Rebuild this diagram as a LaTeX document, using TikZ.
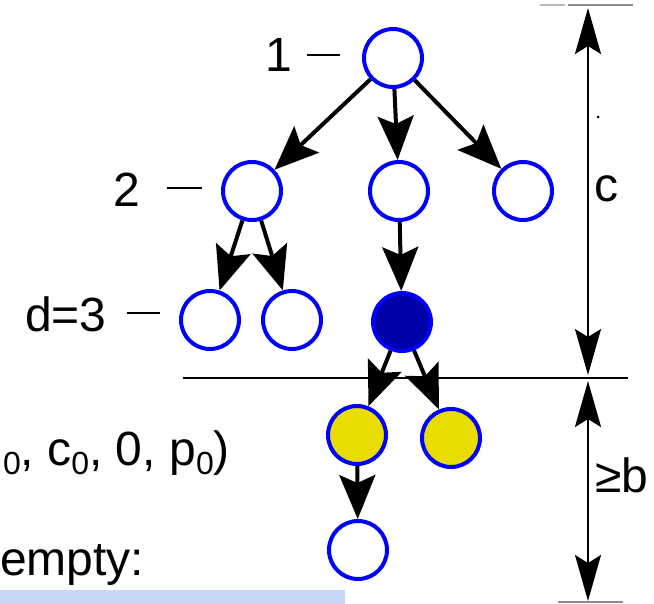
\documentclass[tikz,border=0pt]{standalone}
\usepackage{fontspec}
\setmainfont{Liberation Sans}
\usetikzlibrary{arrows.meta}
\definecolor{nodeblue}{RGB}{0,0,255}
\definecolor{darkfill}{RGB}{0,0,170}
\definecolor{yelfill}{RGB}{232,220,0}
\definecolor{bandblue}{RGB}{200,214,248}
\definecolor{rulegray}{RGB}{140,140,140}
\newcommand{\sub}[1]{\raisebox{-0.2em}{\fontsize{32}{32}\selectfont #1}}
\tikzset{
  tnode/.style={circle,draw=nodeblue,line width=4pt,minimum size=58pt,inner sep=0pt,outer sep=2pt,fill=white},
  darknode/.style={tnode,fill=darkfill},
  yelnode/.style={tnode,fill=yelfill},
  edge/.style={line width=4pt,-{Stealth[length=44pt,width=36pt,inset=8pt]}},
  dim/.style={line width=2pt,{Stealth[length=46pt,width=26pt,inset=8pt]}-{Stealth[length=46pt,width=26pt,inset=8pt]}},
  lbl/.style={inner sep=0pt,font=\fontsize{48}{58}\selectfont},
  tick/.style={line width=1.5pt},
  grayrule/.style={line width=1.5pt,draw=rulegray}
}
\begin{document}
\begin{tikzpicture}[x=1pt,y=-1pt]
\useasboundingbox (0,0) rectangle (654,604);
% band at bottom
\fill[bandblue] (0,590) rectangle (345,604);
% nodes
\node[tnode] (r) at (393,58) {};
\node[tnode] (a) at (252,191) {};
\node[tnode] (b) at (399,191) {};
\node[tnode] (c) at (523,191) {};
\node[tnode] (aa) at (210,320) {};
\node[tnode] (ab) at (292,320) {};
\node[darknode] (ba) at (402,322) {};
\node[yelnode] (y1) at (357,435) {};
\node[yelnode] (y2) at (451,438) {};
\node[tnode] (z) at (358,550) {};
% edges
\draw[edge] (r) -- (a);
\draw[edge] (r) -- (b);
\draw[edge] (r) -- (c);
\draw[edge] (a) -- (aa);
\draw[edge] (a) -- (ab);
\draw[edge] (b) -- (ba);
\draw[edge] (ba) -- (y1);
\draw[edge] (ba) -- (y2);
\draw[edge] (y1) -- (z);
% level labels
\node[lbl,anchor=base west] (l1) at (265,72) {1};
\coordinate (t1a) at (307,55); \coordinate (t1b) at (340,55);
\draw[tick] (t1a) -- (t1b);
\node[lbl,anchor=base west] (l2) at (113,207) {2};
\coordinate (t2a) at (167,188); \coordinate (t2b) at (202,188);
\draw[tick] (t2a) -- (t2b);
\node[lbl,anchor=base west] (l3) at (25,332) {d=3};
\coordinate (t3a) at (127,313); \coordinate (t3b) at (160,313);
\draw[tick] (t3a) -- (t3b);
% horizontal divider
\coordinate (h1) at (183,378); \coordinate (h2) at (628,378);
\draw[line width=1.2pt] (h1) -- (h2);
% gray rules top and bottom
\coordinate (g1) at (540,5); \coordinate (g2) at (565,5);
\coordinate (g3) at (568,5); \coordinate (g4) at (633,5);
\draw[grayrule,draw=rulegray!60] (g1) -- (g2);
\draw[grayrule] (g3) -- (g4);
\coordinate (g5) at (558,602); \coordinate (g6) at (623,602);
\draw[grayrule] (g5) -- (g6);
% dimension arrows
\coordinate (d1) at (588,8); \coordinate (d2) at (588,375);
\coordinate (d3) at (588,381); \coordinate (d4) at (588,601);
\draw[dim] (d1) -- (d2);
\draw[dim] (d3) -- (d4);
\fill (598,117) circle (1.5pt);
\node[lbl,anchor=base west] (lc) at (594,202) {c};
\node[lbl,anchor=base west] (lb) at (595,492) {≥b};
% bottom-left text
\node[lbl,anchor=base east] (tup) at (230,465) {\sub{0}, c\sub{0}, 0, p\sub{0})};
\node[lbl,anchor=base west] (emp) at (0,575) {empty:};
\end{tikzpicture}
\end{document}
